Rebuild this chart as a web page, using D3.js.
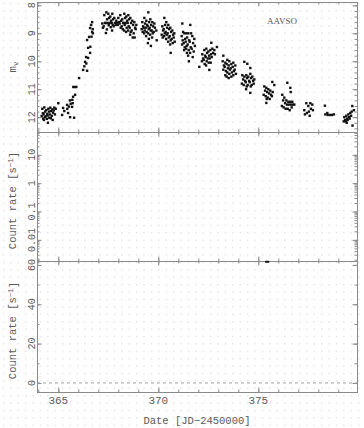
<!DOCTYPE html>
<html>
<head>
<meta charset="utf-8">
<script src="https://cdn.jsdelivr.net/npm/d3@7"></script>
<style>
  body { margin: 0; background: #fff; }
  svg { display: block; }
</style>
</head>
<body>
<svg id="chart"></svg>
<script>
// tick labels
const dateTicks = [365, 370, 375];
const magTicks = [8, 9, 10, 11, 12];
const logTicks = [0.01, 0.1, 1, 10];
const logTickLabels = ["0.01", "0.1", "1", "10"];
const rateTicks = [0, 20, 40, 60];

// count rate points (date, rate)
const countObs = [[375.44, 61.6]];

// AAVSO visual magnitudes (date JD-2450000, m_v)
const aavso = [
  [364.20,11.70],[364.23,11.86],[364.17,11.96],[364.24,12.05],
  [364.30,11.65],[364.34,11.80],[364.27,11.90],[364.33,12.00],[364.28,12.10],
  [364.40,11.75],[364.44,11.88],[364.37,11.97],[364.43,12.06],
  [364.50,11.70],[364.54,11.80],[364.47,11.94],[364.55,12.02],[364.48,12.20],
  [364.60,11.66],[364.64,11.78],[364.57,11.90],[364.63,12.04],
  [364.70,11.72],[364.74,11.84],[364.67,11.95],[364.72,12.10],
  [364.80,11.66],[364.77,11.76],[364.83,11.90],[364.87,11.70],[365.00,11.50],
  [365.19,11.92],[365.24,11.67],[365.30,11.78],[365.44,11.56],[365.45,11.70],
  [365.49,11.85],[365.59,12.00],[365.58,11.40],[365.69,11.63],[365.70,11.38],
  [365.74,11.27],[365.84,11.20],[365.72,11.50],[365.79,12.02],[365.62,11.52],
  [365.53,11.62],[365.75,10.92],[365.82,10.92],[365.90,10.92],[366.04,10.60],
  [366.24,10.31],[366.44,10.34],[366.30,10.18],[366.34,10.02],[366.40,10.08],
  [366.49,9.88],[366.39,9.85],[366.59,9.70],[366.49,9.52],[366.60,9.48],
  [366.44,9.24],[366.54,9.13],[366.69,8.95],[366.59,8.81],[366.64,8.70],
  [366.69,8.60],[366.72,8.85],[366.73,9.00],[366.66,9.12],
  [367.20,8.65],[367.23,8.80],
  [367.30,8.35],[367.33,8.63],[367.27,8.75],
  [367.40,8.25],[367.44,8.50],[367.37,8.63],[367.43,8.86],[367.38,8.99],
  [367.50,8.30],[367.54,8.45],[367.47,8.63],[367.52,8.71],
  [367.60,8.40],[367.64,8.55],[367.57,8.63],[367.62,8.78],
  [367.70,8.30],[367.74,8.50],[367.67,8.63],[367.72,8.70],[367.69,8.90],
  [367.80,8.45],[367.83,8.63],[367.77,8.75],
  [367.90,8.55],[367.93,8.63],[367.87,8.70],
  [368.00,8.45],[368.03,8.60],[367.98,8.70],
  [368.10,8.35],[368.14,8.55],[368.07,8.65],[368.12,8.80],
  [368.20,8.50],[368.24,8.63],[368.17,8.75],[368.22,8.85],
  [368.30,8.30],[368.34,8.45],[368.27,8.63],[368.32,8.70],[368.29,8.90],
  [368.40,8.40],[368.44,8.55],[368.37,8.63],[368.42,8.80],[368.39,8.95],
  [368.50,8.35],[368.54,8.50],[368.47,8.63],[368.52,8.75],[368.49,8.90],
  [368.60,8.45],[368.64,8.63],[368.57,8.80],[368.62,8.95],[368.59,9.05],
  [368.70,8.55],[368.74,8.70],[368.67,8.90],[368.72,9.15],
  [368.80,8.60],[368.84,8.80],[368.77,9.00],[368.82,9.15],
  [368.90,8.70],[368.87,8.85],
  [369.20,8.60],[369.24,8.75],[369.17,8.85],[369.22,8.95],
  [369.30,8.45],[369.34,8.65],[369.27,8.80],[369.32,8.90],[369.29,9.00],
  [369.40,8.55],[369.44,8.70],[369.37,8.80],[369.42,8.95],[369.39,9.10],
  [369.50,8.25],[369.54,8.60],[369.47,8.75],[369.52,8.85],[369.49,9.00],[369.53,9.20],[369.48,9.35],
  [369.60,8.50],[369.64,8.70],[369.57,8.80],[369.62,8.90],[369.59,9.05],[369.63,9.45],
  [369.70,8.60],[369.74,8.75],[369.67,8.90],[369.72,9.00],[369.69,9.15],
  [369.80,8.65],[369.83,8.80],[369.77,8.95],[369.90,8.90],[369.92,9.25],
  [370.20,8.75],[370.24,8.90],[370.17,9.05],[370.22,9.15],
  [370.30,8.45],[370.34,8.70],[370.27,8.85],[370.32,9.00],[370.29,9.10],
  [370.40,8.60],[370.44,8.80],[370.37,8.95],[370.42,9.05],[370.39,9.20],
  [370.50,8.70],[370.54,8.85],[370.47,9.00],[370.52,9.15],[370.49,9.30],
  [370.60,8.80],[370.64,8.95],[370.57,9.10],[370.62,9.25],[370.59,9.40],[370.62,9.70],
  [370.70,8.90],[370.74,9.05],[370.67,9.20],[370.72,9.35],
  [370.80,9.00],[370.77,9.15],[370.82,9.30],
  [371.20,8.65],[371.24,8.95],[371.17,9.10],[371.22,9.25],[371.19,9.40],
  [371.30,9.00],[371.34,9.20],[371.27,9.35],[371.32,9.50],[371.29,9.60],
  [371.40,9.00],[371.44,9.15],[371.37,9.30],[371.42,9.45],[371.39,9.55],[371.43,9.70],
  [371.50,9.00],[371.54,9.25],[371.47,9.40],[371.52,9.60],[371.49,9.80],[371.53,10.00],
  [371.60,8.70],[371.64,9.00],[371.57,9.30],[371.62,9.50],[371.59,9.70],
  [371.70,9.10],[371.74,9.35],[371.67,9.55],[371.72,9.85],
  [371.80,9.20],[371.83,9.45],[371.77,9.65],[372.05,10.20],
  [372.20,9.75],[372.24,9.90],[372.18,10.00],
  [372.30,9.60],[372.34,9.80],[372.27,9.95],[372.32,10.10],
  [372.40,9.55],[372.44,9.70],[372.37,9.85],[372.42,10.00],[372.39,10.15],
  [372.50,9.65],[372.54,9.80],[372.47,9.90],[372.52,10.05],[372.55,10.31],
  [372.65,9.34],[372.60,9.60],[372.64,9.75],[372.57,9.90],[372.62,10.05],
  [372.70,9.55],[372.74,9.70],[372.67,9.85],
  [372.80,9.60],[372.83,9.75],[372.93,9.49],
  [373.25,9.80],[373.22,10.00],[373.28,10.15],[373.25,10.30],
  [373.35,10.05],[373.32,10.20],[373.38,10.35],[373.35,10.50],
  [373.45,9.95],[373.42,10.10],[373.48,10.25],[373.45,10.40],[373.42,10.55],
  [373.55,10.00],[373.52,10.15],[373.58,10.30],[373.55,10.45],[373.52,10.60],
  [373.65,10.10],[373.62,10.25],[373.68,10.40],[373.65,10.55],
  [373.75,10.05],[373.72,10.20],[373.78,10.35],[373.75,10.50],
  [373.85,10.15],[373.82,10.30],[373.88,10.45],
  [374.30,10.02],[374.45,10.09],[374.60,10.24],
  [374.20,10.50],[374.24,10.65],[374.18,10.80],
  [374.30,10.55],[374.34,10.70],[374.27,10.85],
  [374.40,10.50],[374.44,10.60],[374.37,10.75],[374.42,10.90],[374.39,11.00],
  [374.50,10.55],[374.54,10.70],[374.47,10.85],[374.60,11.13],
  [374.60,10.45],[374.64,10.60],[374.57,10.75],[374.62,10.90],
  [374.70,10.55],[374.74,10.70],[374.67,10.85],
  [374.80,10.65],[374.77,10.80],
  [375.30,10.90],[375.34,11.05],[375.27,11.20],[375.40,11.49],
  [375.40,10.95],[375.44,11.10],[375.37,11.25],[375.42,11.35],
  [375.50,11.00],[375.54,11.15],[375.47,11.30],
  [375.70,10.74],[375.60,11.05],[375.64,11.20],[375.57,11.35],
  [375.72,11.10],[375.68,11.25],[375.80,10.85],
  [376.20,11.20],[376.24,11.40],[376.18,11.60],
  [376.30,11.30],[376.34,11.50],[376.27,11.65],
  [376.45,10.77],[376.40,11.40],[376.44,11.55],[376.37,11.70],
  [376.60,10.95],[376.50,11.45],[376.54,11.55],[376.47,11.70],
  [376.62,11.10],[376.60,11.45],[376.64,11.55],[376.57,11.75],
  [376.70,11.45],[376.74,11.55],[376.67,11.65],[376.80,11.55],
  [377.30,11.75],[377.33,11.90],[377.40,11.50],[377.43,11.85],
  [377.50,11.60],[377.53,11.80],[377.60,11.50],[377.63,11.70],[377.57,11.95],
  [377.70,11.55],[377.73,11.75],
  [378.33,11.59],[378.35,11.90],[378.45,11.85],[378.47,11.92],
  [378.58,11.92],[378.68,11.92],[378.78,11.90],
  [379.30,12.00],[379.34,12.10],[379.27,12.15],
  [379.40,11.95],[379.44,12.05],[379.37,12.15],[379.42,12.20],
  [379.50,11.90],[379.54,12.00],[379.47,12.10],
  [379.60,11.85],[379.64,11.95],[379.57,12.05],
  [379.70,11.60],[379.67,11.80],[379.71,12.30],[379.78,11.75]
];

const svgWidth = 364;
const svgHeight = 428;
const left = 37, right = 357;
const panels = [
  { top: 2, bottom: 132 },
  { top: 132, bottom: 261 },
  { top: 261, bottom: 392 }
];
const axisColor = "#8a8a8a";
const textColor = "#5a5a5a";
const mono = "'Liberation Mono', 'DejaVu Sans Mono', monospace";

const svg = d3.select("#chart").attr("width", svgWidth).attr("height", svgHeight);

// dotted background
const defs = svg.append("defs");
const pat = defs.append("pattern")
  .attr("id", "dots")
  .attr("patternUnits", "userSpaceOnUse")
  .attr("width", 7.4)
  .attr("height", 7.4);
pat.append("rect").attr("x", 3).attr("y", 3).attr("width", 1).attr("height", 1).attr("fill", "#c4c4c4");
svg.append("rect").attr("width", svgWidth).attr("height", svgHeight).attr("fill", "#fff");
svg.append("rect").attr("width", svgWidth).attr("height", svgHeight).attr("fill", "url(#dots)");

// scales
const x = d3.scaleLinear().domain([363.935, 379.935]).range([left, right]);
const yMag = d3.scaleLinear().domain([7.88, 12.53]).range([panels[0].top, panels[0].bottom]);
const yLog = d3.scaleLog().domain([0.0018, 64]).range([panels[1].bottom, panels[1].top]);
const yRate = d3.scaleLinear().domain([-4.6, 62]).range([panels[2].bottom, panels[2].top]);

const styleAxis = (g) => {
  g.select(".domain").remove();
  g.selectAll("line").attr("stroke", axisColor).attr("stroke-width", 1);
};

// x ticks on top and bottom of each panel, pointing inward
panels.forEach((p) => {
  svg.append("g").attr("transform", `translate(0,${p.bottom})`)
    .call(d3.axisBottom(x).ticks(16).tickSize(-2.5).tickFormat("")).call(styleAxis);
  svg.append("g").attr("transform", `translate(0,${p.bottom})`)
    .call(d3.axisBottom(x).tickValues(dateTicks).tickSize(-4.5).tickFormat("")).call(styleAxis);
  svg.append("g").attr("transform", `translate(0,${p.top})`)
    .call(d3.axisTop(x).ticks(16).tickSize(-2.5).tickFormat("")).call(styleAxis);
  svg.append("g").attr("transform", `translate(0,${p.top})`)
    .call(d3.axisTop(x).tickValues(dateTicks).tickSize(-4.5).tickFormat("")).call(styleAxis);
});

// y ticks, left and right
const yAxes = [
  { scale: yMag, minor: yMag.ticks(25), major: magTicks },
  { scale: yLog, minor: yLog.ticks(), major: logTicks },
  { scale: yRate, minor: yRate.ticks(7), major: rateTicks }
];
yAxes.forEach((a) => {
  svg.append("g").attr("transform", `translate(${left},0)`)
    .call(d3.axisLeft(a.scale).tickValues(a.minor).tickSize(-2.5).tickFormat("")).call(styleAxis);
  svg.append("g").attr("transform", `translate(${left},0)`)
    .call(d3.axisLeft(a.scale).tickValues(a.major).tickSize(-4.5).tickFormat("")).call(styleAxis);
  svg.append("g").attr("transform", `translate(${right},0)`)
    .call(d3.axisRight(a.scale).tickValues(a.minor).tickSize(-2.5).tickFormat("")).call(styleAxis);
  svg.append("g").attr("transform", `translate(${right},0)`)
    .call(d3.axisRight(a.scale).tickValues(a.major).tickSize(-4.5).tickFormat("")).call(styleAxis);
});

// panel frames
panels.forEach((p) => {
  svg.append("rect")
    .attr("x", left + 0.5).attr("y", p.top + 0.5)
    .attr("width", right - left).attr("height", p.bottom - p.top)
    .attr("fill", "none").attr("stroke", axisColor).attr("stroke-width", 1);
});

// zero line in the bottom panel
svg.append("line")
  .attr("x1", left).attr("x2", right)
  .attr("y1", yRate(0)).attr("y2", yRate(0))
  .attr("stroke", "#a0a0a0").attr("stroke-dasharray", "3,3");

// y tick labels (rotated)
const yLabel = (vals, scale, fmt) => {
  svg.append("g").selectAll("text").data(vals).join("text")
    .attr("transform", (d) => `translate(31,${scale(d)}) rotate(-90)`)
    .attr("dy", "0.35em")
    .attr("text-anchor", "middle")
    .style("font-family", mono)
    .style("font-size", "10px")
    .attr("fill", textColor)
    .text(fmt);
};
yLabel(magTicks, yMag, (d) => d);
yLabel(logTicks, yLog, (d, i) => logTickLabels[i]);
yLabel(rateTicks, yRate, (d) => d);

// x tick labels
svg.append("g").selectAll("text").data(dateTicks).join("text")
  .attr("x", (d) => x(d))
  .attr("y", 404)
  .attr("text-anchor", "middle")
  .style("font-family", mono)
  .style("font-size", "11px")
  .attr("fill", textColor)
  .text((d) => d);

// axis titles
svg.append("text")
  .attr("x", 197).attr("y", 424)
  .attr("text-anchor", "middle")
  .style("font-family", mono).style("font-size", "10.5px")
  .attr("fill", textColor)
  .text("Date [JD\u22122450000]");

const mv = svg.append("text")
  .attr("transform", `translate(16,${(panels[0].top + panels[0].bottom) / 2}) rotate(-90)`)
  .attr("text-anchor", "middle")
  .style("font-family", mono).style("font-size", "10.5px")
  .attr("fill", textColor);
mv.append("tspan").text("m");
mv.append("tspan").attr("dy", "0.3em").style("font-size", "7.5px").text("v");

const rateTitle = (p) => {
  const t = svg.append("text")
    .attr("transform", `translate(16,${(p.top + p.bottom) / 2 + 4}) rotate(-90)`)
    .attr("text-anchor", "middle")
    .style("font-family", mono).style("font-size", "10.5px")
    .attr("fill", textColor);
  t.append("tspan").text("Count rate [s");
  t.append("tspan").attr("dy", "-0.4em").style("font-size", "7.5px").text("\u22121");
  t.append("tspan").attr("dy", "0.4em").text("]");
};
rateTitle(panels[1]);
rateTitle(panels[2]);

// AAVSO label
svg.append("text")
  .attr("x", 282).attr("y", 24)
  .attr("text-anchor", "middle")
  .style("font-family", "'Liberation Serif', serif")
  .style("font-size", "9px")
  .attr("fill", "#555")
  .text("AAVSO");

// magnitude points
svg.append("g").selectAll("rect").data(aavso).join("rect")
  .attr("x", (d) => x(d[0]) - 1.2)
  .attr("y", (d) => yMag(d[1]) - 1.2)
  .attr("width", 2.4)
  .attr("height", 2.4)
  .attr("fill", "#111");

// count rate point
svg.append("g").selectAll("rect").data(countObs).join("rect")
  .attr("x", (d) => x(d[0]) - 2)
  .attr("y", (d) => yRate(d[1]) - 1)
  .attr("width", 4)
  .attr("height", 2)
  .attr("fill", "#111");
</script>
</body>
</html>
